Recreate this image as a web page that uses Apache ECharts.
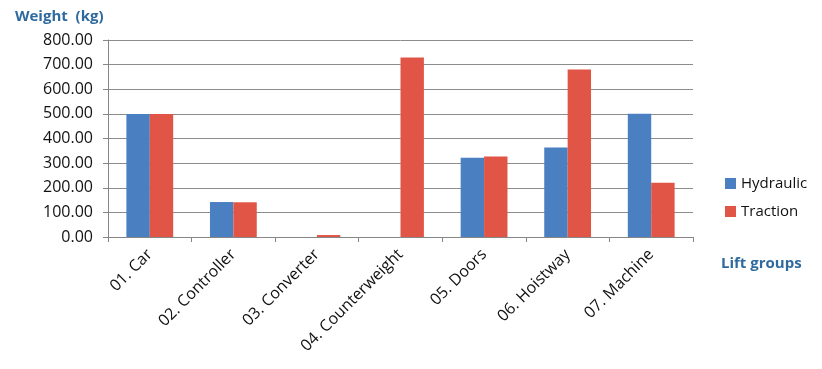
<!DOCTYPE html>
<html>
<head>
<meta charset="utf-8">
<script src="https://cdn.jsdelivr.net/npm/echarts@6/dist/echarts.min.js"></script>
<style>html,body{margin:0;padding:0;background:#fff;}#c{width:822px;height:369px;}</style>
</head>
<body>
<div id="c"></div>
<script>
const categories = ['01. Car', '02. Controller', '03. Converter', '04. Counterweight', '05. Doors', '06. Hoistway', '07. Machine'];
const hydraulic = [500, 142, 0, 0, 322, 363, 501];
const traction = [500, 141, 8, 729, 327, 680, 220];
const yTicks = { min: 0, max: 800, interval: 100 };

const chart = echarts.init(document.getElementById('c'), null, { renderer: 'canvas' });
const font = '"Open Sans", "Noto Sans", sans-serif';
chart.setOption({
  animation: false,
  backgroundColor: '#fff',
  title: [
    { text: 'Weight  (kg)', left: 10, top: 4, textStyle: { fontFamily: font, fontSize: 15, fontWeight: 'bold', color: '#2f6a9f' } },
    { text: 'Lift groups', left: 716, top: 251, textStyle: { fontFamily: font, fontSize: 15, fontWeight: 'bold', color: '#2f6a9f' } }
  ],
  legend: {
    orient: 'vertical', left: 720, top: 171, itemWidth: 11, itemHeight: 11, itemGap: 13,
    icon: 'rect',
    textStyle: { fontFamily: font, fontSize: 15, color: '#111' },
    data: ['Hydraulic', 'Traction']
  },
  grid: { left: 108, right: 129, top: 40, bottom: 132, containLabel: false },
  xAxis: {
    type: 'category', data: categories,
    axisLine: { lineStyle: { color: '#868686', width: 1 } },
    axisTick: { show: true, length: 5, lineStyle: { color: '#868686' } },
    axisLabel: { rotate: 45, fontFamily: font, fontSize: 16, fontWeight: 500, color: '#111', margin: 15, interval: 0 }
  },
  yAxis: {
    type: 'value', min: yTicks.min, max: yTicks.max, interval: yTicks.interval,
    axisLine: { show: true, lineStyle: { color: '#868686' } },
    axisTick: { show: true, length: 5, lineStyle: { color: '#868686' } },
    splitLine: { lineStyle: { color: '#8c8c8c', width: 1 } },
    axisLabel: { fontFamily: font, fontSize: 16, color: '#111', margin: 15, formatter: v => v.toFixed(2) }
  },
  series: [
    { name: 'Hydraulic', type: 'bar', data: hydraulic, barGap: '0%', barCategoryGap: '44%', itemStyle: { color: '#4a7fc1' } },
    { name: 'Traction', type: 'bar', data: traction, barGap: '0%', barCategoryGap: '44%', itemStyle: { color: '#e05546' } }
  ]
});
</script>
</body>
</html>
